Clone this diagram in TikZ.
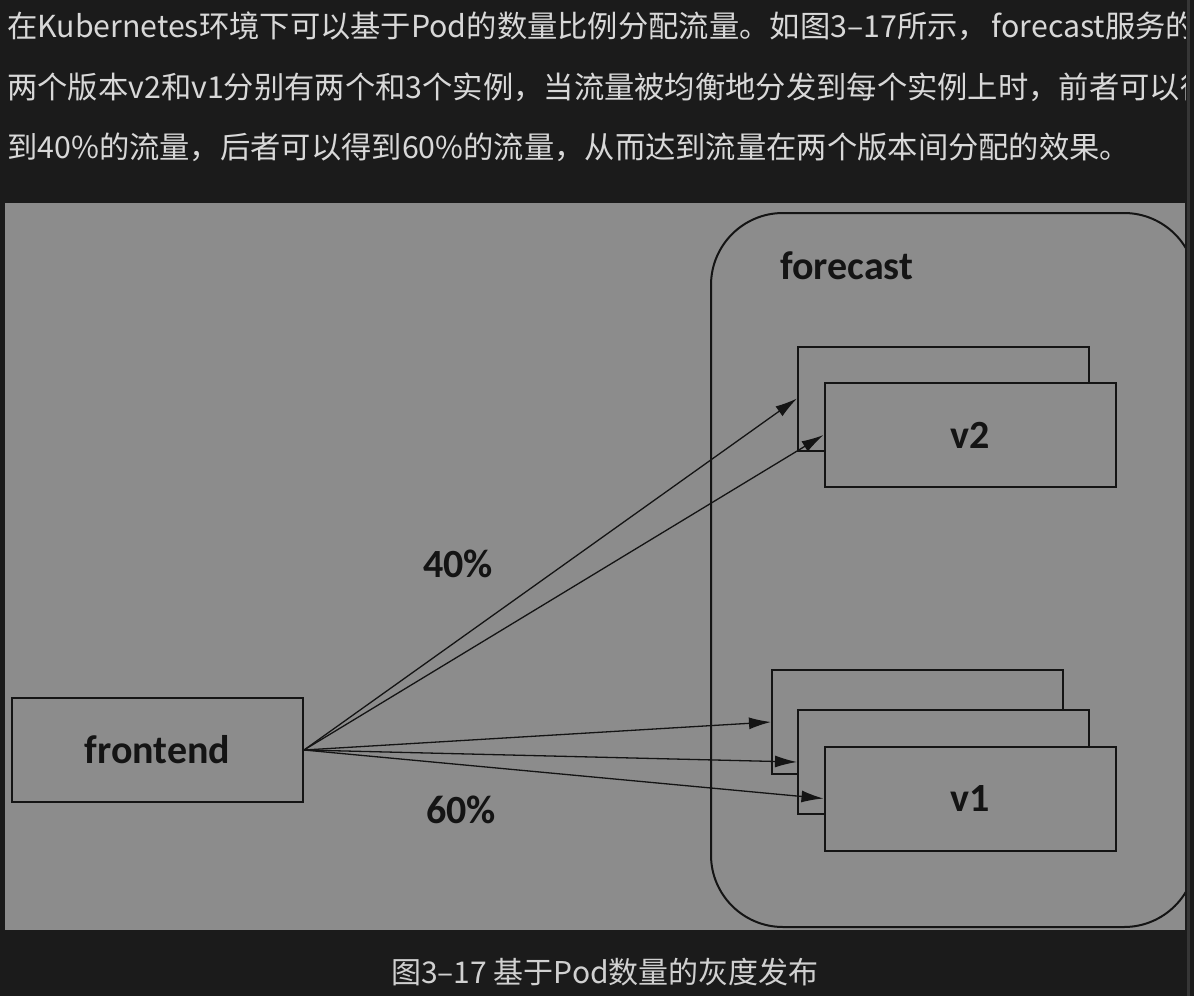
\documentclass[tikz,border=0pt]{standalone}
\usepackage{fontspec}
\setmainfont{Carlito}
\newfontfamily\cjk{Noto Sans CJK SC}
\newfontfamily\diag{Carlito}
\usetikzlibrary{arrows.meta}
\definecolor{pagebg}{HTML}{1B1B1B}
\definecolor{panel}{HTML}{8C8C8C}
\definecolor{ink}{HTML}{141414}
\definecolor{txt}{HTML}{D8D8D8}
\definecolor{cap}{HTML}{D0D0D0}
\definecolor{strip}{HTML}{363636}
\tikzset{
  para/.style={anchor=base west, inner sep=0pt, text=txt, font=\cjk\fontsize{30.3}{30.3}\selectfont},
  capt/.style={anchor=base, inner sep=0pt, text=cap, font=\cjk\fontsize{30}{30}\selectfont},
  pod/.style={draw=ink, line width=2pt, fill=panel, minimum width=291pt, minimum height=104pt, inner sep=0pt, text=ink, font=\diag\bfseries\fontsize{40}{40}\selectfont},
  lbl/.style={inner sep=0pt, text=ink, font=\diag\bfseries\fontsize{40}{40}\selectfont},
  flow/.style={draw=ink, line width=1.3pt, -{Latex[length=22pt,width=12pt]}},
  svc/.style={draw=ink, line width=2pt, rounded corners=72pt}
}
\begin{document}
\begin{tikzpicture}[x=1pt,y=-1pt]
\fill[pagebg] (0,0) rectangle (1194,996);
\useasboundingbox (0,0) rectangle (1194,996);
% right scroll strip
\fill[strip] (1187,0) rectangle (1190,996);
% paragraph
\begin{scope}
\clip (0,0) rectangle (1185,200);
\node[para] (l1) at (7,37) {在Kubernetes环境下可以基于Pod的数量比例分配流量。如图3–17所示，\hspace{4pt}forecast服务的};
\node[para] (l2) at (7,98) {两个版本v2和v1分别有两个和3个实例，当流量被均衡地分发到每个实例上时，前者可以得};
\node[para] (l3) at (7,158) {到40\%的流量，后者可以得到60\%的流量，从而达到流量在两个版本间分配的效果。};
\end{scope}
% panel
\fill[panel] (5,203) rectangle (1185,930);
\begin{scope}
\clip (5,203) rectangle (1185,930);
\draw[svc] (711,213) rectangle (1196,927);
\node[lbl, anchor=west] (fc) at (780,266) {forecast};
\node[pod] (fe) at (157.5,750) {frontend};
\node[pod] (v2b) at (943.5,398.5) {};
\node[pod] (v2a) at (970,435) {v2};
\node[pod] (v1c) at (917.5,722) {};
\node[pod] (v1b) at (943.5,762) {};
\node[pod] (v1a) at (970,798.5) {v1};
\node[lbl] (p40) at (458,564) {40\%};
\node[lbl] (p60) at (461,810) {60\%};
\draw[flow] (fe.east) -- (v2b.west);
\draw[flow] (fe.east) -- (v2a.west);
\draw[flow] (fe.east) -- (v1c.west);
\draw[flow] (fe.east) -- (v1b.west);
\draw[flow] (fe.east) -- (v1a.west);
\end{scope}
% caption
\node[capt] (cp) at (605,983) {图3–17 基于Pod数量的灰度发布};
\end{tikzpicture}
\end{document}
